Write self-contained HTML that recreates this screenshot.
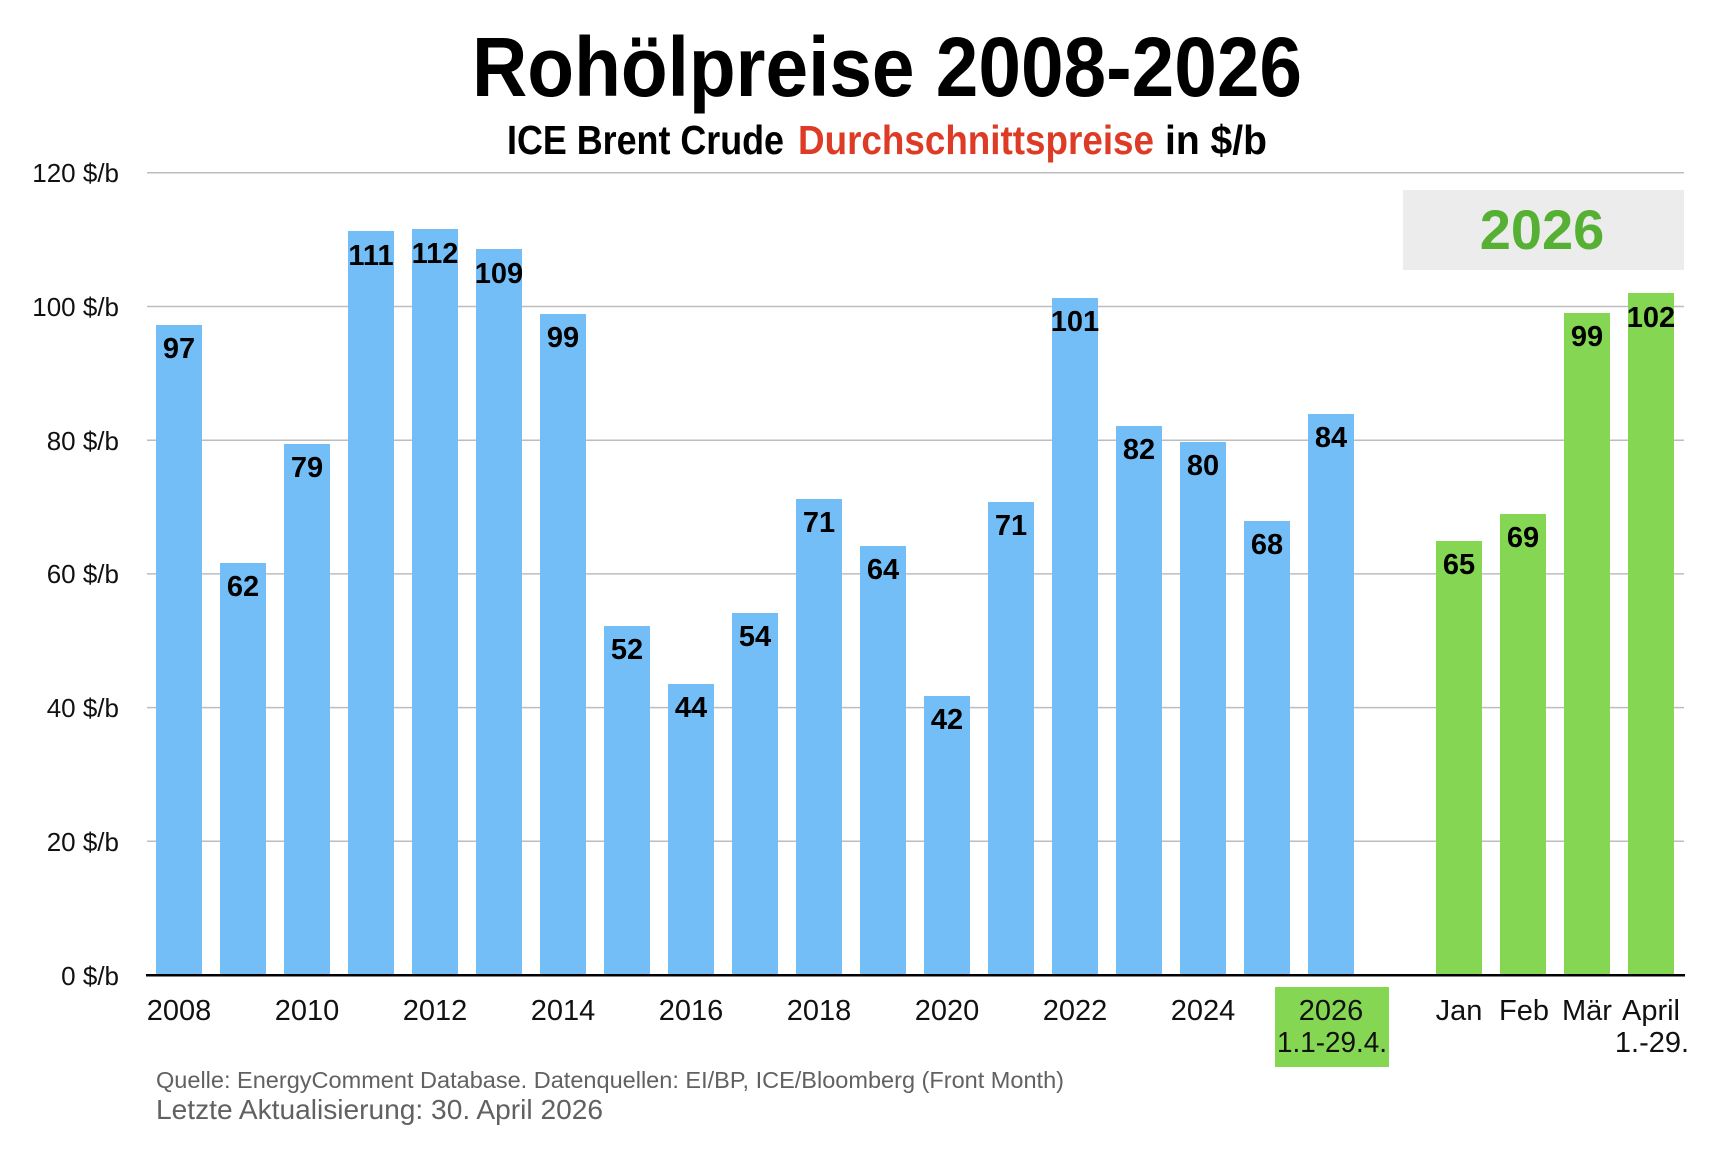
<!DOCTYPE html>
<html><head><meta charset="utf-8"><style>
html,body{margin:0;padding:0;background:#fff;}
svg{display:block;}
text{font-family:"Liberation Sans",Arial,sans-serif;}
.yl{font-size:26px;fill:#111;text-anchor:end;}
.xl{font-size:29px;fill:#111;text-anchor:middle;}
.bl{font-size:29px;font-weight:bold;fill:#000;text-anchor:middle;}
</style></head><body>
<svg width="1732" height="1156" viewBox="0 0 1732 1156" xmlns="http://www.w3.org/2000/svg">
<rect width="1732" height="1156" fill="#fff"/>
<text x="472" y="96" font-size="84" font-weight="bold" fill="#000" textLength="830" lengthAdjust="spacingAndGlyphs">Rohölpreise 2008-2026</text>
<text x="507" y="154" font-size="41" font-weight="bold" fill="#000" textLength="277" lengthAdjust="spacingAndGlyphs">ICE Brent Crude</text>
<text x="798" y="154" font-size="41" font-weight="bold" fill="#de3b27" textLength="356" lengthAdjust="spacingAndGlyphs">Durchschnittspreise</text>
<text x="1165" y="154" font-size="41" font-weight="bold" fill="#000" textLength="102" lengthAdjust="spacingAndGlyphs">in $/b</text>
<g stroke="#bdbdbd" stroke-width="1.5">
<line x1="147" y1="172.8" x2="1684" y2="172.8"/>
<line x1="147" y1="306.5" x2="1684" y2="306.5"/>
<line x1="147" y1="440.2" x2="1684" y2="440.2"/>
<line x1="147" y1="573.9" x2="1684" y2="573.9"/>
<line x1="147" y1="707.6" x2="1684" y2="707.6"/>
<line x1="147" y1="841.3" x2="1684" y2="841.3"/>
</g>
<text class="yl" x="119" y="182">120 $/b</text>
<text class="yl" x="119" y="316">100 $/b</text>
<text class="yl" x="119" y="450">80 $/b</text>
<text class="yl" x="119" y="583">60 $/b</text>
<text class="yl" x="119" y="717">40 $/b</text>
<text class="yl" x="119" y="851">20 $/b</text>
<text class="yl" x="119" y="985">0 $/b</text>
<rect x="1403" y="190" width="281" height="80" fill="#ececec"/>
<text x="1542" y="249" font-size="56" font-weight="bold" fill="#55b033" text-anchor="middle">2026</text>
<g fill="#74bef8">
<rect x="156" y="325" width="46" height="650"/>
<rect x="220" y="563" width="46" height="412"/>
<rect x="284" y="444" width="46" height="531"/>
<rect x="348" y="231" width="46" height="744"/>
<rect x="412" y="229" width="46" height="746"/>
<rect x="476" y="249" width="46" height="726"/>
<rect x="540" y="314" width="46" height="661"/>
<rect x="604" y="626" width="46" height="349"/>
<rect x="668" y="684" width="46" height="291"/>
<rect x="732" y="613" width="46" height="362"/>
<rect x="796" y="499" width="46" height="476"/>
<rect x="860" y="546" width="46" height="429"/>
<rect x="924" y="696" width="46" height="279"/>
<rect x="988" y="502" width="46" height="473"/>
<rect x="1052" y="298" width="46" height="677"/>
<rect x="1116" y="426" width="46" height="549"/>
<rect x="1180" y="442" width="46" height="533"/>
<rect x="1244" y="521" width="46" height="454"/>
<rect x="1308" y="414" width="46" height="561"/>
</g>
<g fill="#84d653">
<rect x="1436" y="541" width="46" height="434"/>
<rect x="1500" y="514" width="46" height="461"/>
<rect x="1564" y="313" width="46" height="662"/>
<rect x="1628" y="293" width="46" height="682"/>
</g>
<text class="bl" x="179" y="358">97</text>
<text class="bl" x="243" y="596">62</text>
<text class="bl" x="307" y="477">79</text>
<text class="bl" x="371" y="265">111</text>
<text class="bl" x="435" y="263">112</text>
<text class="bl" x="499" y="283">109</text>
<text class="bl" x="563" y="347">99</text>
<text class="bl" x="627" y="659">52</text>
<text class="bl" x="691" y="717">44</text>
<text class="bl" x="755" y="646">54</text>
<text class="bl" x="819" y="532">71</text>
<text class="bl" x="883" y="579">64</text>
<text class="bl" x="947" y="729">42</text>
<text class="bl" x="1011" y="535">71</text>
<text class="bl" x="1075" y="331">101</text>
<text class="bl" x="1139" y="459">82</text>
<text class="bl" x="1203" y="475">80</text>
<text class="bl" x="1267" y="554">68</text>
<text class="bl" x="1331" y="447">84</text>
<text class="bl" x="1459" y="574">65</text>
<text class="bl" x="1523" y="547">69</text>
<text class="bl" x="1587" y="346">99</text>
<text class="bl" x="1651" y="327">102</text>
<rect x="146" y="974" width="1539" height="2.5" fill="#000"/>
<text class="xl" x="179" y="1020">2008</text>
<text class="xl" x="307" y="1020">2010</text>
<text class="xl" x="435" y="1020">2012</text>
<text class="xl" x="563" y="1020">2014</text>
<text class="xl" x="691" y="1020">2016</text>
<text class="xl" x="819" y="1020">2018</text>
<text class="xl" x="947" y="1020">2020</text>
<text class="xl" x="1075" y="1020">2022</text>
<text class="xl" x="1203" y="1020">2024</text>
<rect x="1275" y="987" width="114" height="80" fill="#84d653"/>
<text class="xl" x="1331" y="1020">2026</text>
<text class="xl" x="1332" y="1052" textLength="110" lengthAdjust="spacingAndGlyphs">1.1-29.4.</text>
<text class="xl" x="1459" y="1020">Jan</text>
<text class="xl" x="1524" y="1020">Feb</text>
<text class="xl" x="1587" y="1020">Mär</text>
<text class="xl" x="1651" y="1020">April</text>
<text class="xl" x="1652" y="1052">1.-29.</text>
<text x="156" y="1088" font-size="23" fill="#616161" textLength="908" lengthAdjust="spacingAndGlyphs">Quelle: EnergyComment Database. Datenquellen: EI/BP, ICE/Bloomberg (Front Month)</text>
<text x="156" y="1119" font-size="28" fill="#616161" textLength="447" lengthAdjust="spacingAndGlyphs">Letzte Aktualisierung: 30. April 2026</text>
</svg>
</body></html>
